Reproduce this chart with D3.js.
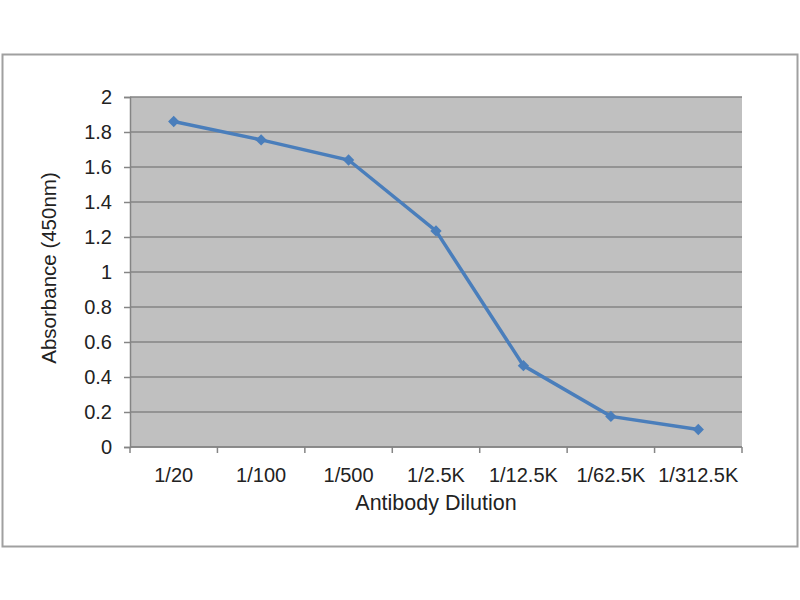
<!DOCTYPE html>
<html>
<head>
<meta charset="utf-8">
<script src="https://cdn.jsdelivr.net/npm/d3@7"></script>
<style>
  body { margin: 0; background: #fff; }
  text { font-family: "Liberation Sans", Arial, sans-serif; fill: #222; }
</style>
</head>
<body>
<svg id="chart" width="800" height="600"></svg>
<script>
// dilution steps and measured absorbance
var dilutions = ["1/20", "1/100", "1/500", "1/2.5K", "1/12.5K", "1/62.5K", "1/312.5K"];
var absorbance = [1.86, 1.755, 1.64, 1.235, 0.465, 0.175, 0.10];
var yTicks = [0, 0.2, 0.4, 0.6, 0.8, 1, 1.2, 1.4, 1.6, 1.8, 2];

(function () {
    var svg = d3.select("#chart");

    var margin = {top: 97, right: 58, bottom: 153, left: 130},
        width = 800 - margin.left - margin.right,
        height = 600 - margin.top - margin.bottom;

    // outer frame
    svg.append("rect")
        .attr("x", 2.5).attr("y", 54.5)
        .attr("width", 795).attr("height", 492)
        .attr("fill", "#fff")
        .attr("stroke", "#a0a0a0")
        .attr("stroke-width", 2);

    var g = svg.append("g")
        .attr("transform", "translate(" + margin.left + "," + margin.top + ")");

    var x = d3.scaleBand().domain(dilutions).range([0, width]);
    var y = d3.scaleLinear().domain([0, 2]).range([height, 0]);

    g.append("rect")
        .attr("width", width).attr("height", height)
        .attr("fill", "#c0c0c0");

    // gridlines
    g.selectAll(".grid")
        .data(yTicks)
        .enter().append("line")
        .attr("x1", 0).attr("x2", width)
        .attr("y1", function (d) { return y(d); })
        .attr("y2", function (d) { return y(d); })
        .attr("stroke", "#858585")
        .attr("stroke-width", 1.5);

    var yAxis = d3.axisLeft(y).tickValues(yTicks).tickSize(6).tickPadding(12)
        .tickFormat(function (d) { return d.toString(); });
    var gy = g.append("g").call(yAxis);
    gy.select(".domain").attr("stroke", "#858585").attr("stroke-width", 1.5);
    gy.selectAll(".tick line").attr("stroke", "#858585").attr("stroke-width", 1.5);
    gy.selectAll("text").style("font-size", "20px").attr("fill", "#222");

    // x axis with ticks between categories
    var gx = g.append("g").attr("transform", "translate(0," + height + ")");
    gx.append("line").attr("x1", 0).attr("x2", width)
        .attr("stroke", "#858585").attr("stroke-width", 1.5);
    var bounds = d3.range(dilutions.length + 1).map(function (i) {
        return i < dilutions.length ? x(dilutions[i]) : width;
    });
    gx.selectAll(".xt").data(bounds).enter().append("line")
        .attr("x1", function (d) { return d; }).attr("x2", function (d) { return d; })
        .attr("y1", 0).attr("y2", 6)
        .attr("stroke", "#858585").attr("stroke-width", 1.5);
    gx.selectAll(".xl").data(dilutions).enter().append("text")
        .attr("x", function (d) { return x(d) + x.bandwidth() / 2; })
        .attr("y", 35)
        .attr("text-anchor", "middle")
        .style("font-size", "20px")
        .text(function (d) { return d; });

    // axis titles
    svg.append("text")
        .attr("x", margin.left + width / 2).attr("y", 510)
        .attr("text-anchor", "middle")
        .style("font-size", "21.5px")
        .text("Antibody Dilution");
    svg.append("text")
        .attr("transform", "translate(56,268) rotate(-90)")
        .attr("text-anchor", "middle")
        .style("font-size", "20.5px")
        .text("Absorbance (450nm)");

    var line = d3.line()
        .x(function (d, i) { return x(dilutions[i]) + x.bandwidth() / 2; })
        .y(function (d) { return y(d); });

    g.append("path")
        .datum(absorbance)
        .attr("d", line)
        .attr("fill", "none")
        .attr("stroke", "#4a7ebb")
        .attr("stroke-width", 3.5);

    g.selectAll(".pt").data(absorbance).enter().append("path")
        .attr("d", d3.symbol().type(d3.symbolSquare).size(64))
        .attr("transform", function (d, i) {
            return "translate(" + (x(dilutions[i]) + x.bandwidth() / 2) + "," + y(d) + ") rotate(45)";
        })
        .attr("fill", "#4a7ebb");
}());
</script>
</body>
</html>
